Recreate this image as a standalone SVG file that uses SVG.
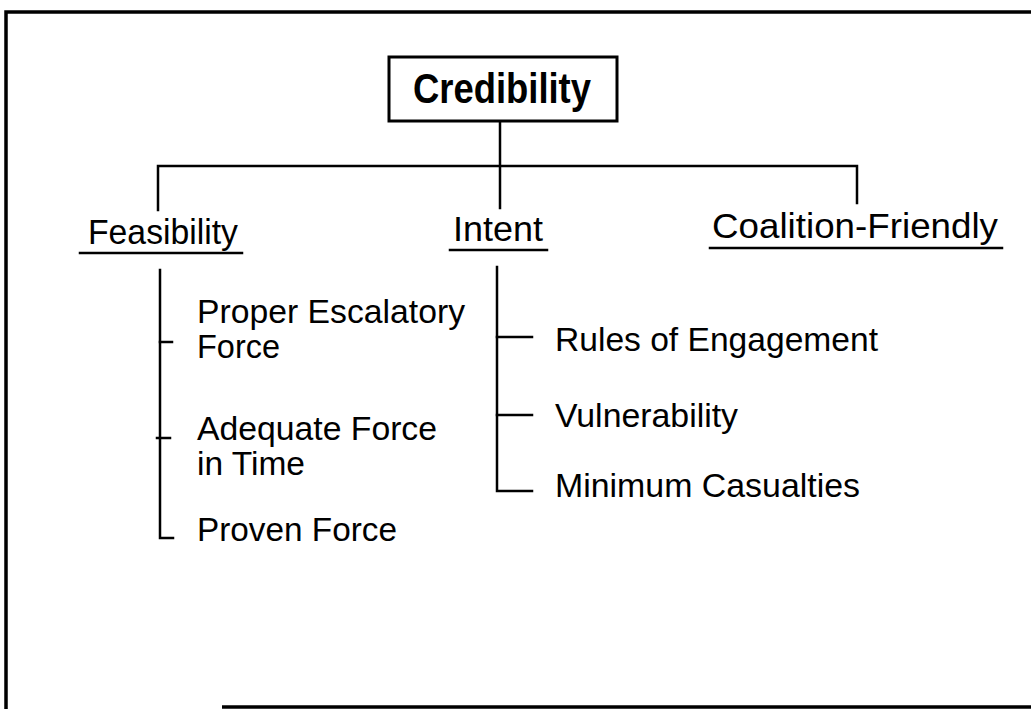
<svg xmlns="http://www.w3.org/2000/svg" width="1031" height="709" viewBox="0 0 1031 709">
<style>
.bg{fill:#fff}
.ln{stroke:#000;stroke-width:2.5;fill:none;stroke-linecap:square}
.frame{stroke:#000;stroke-width:3.5;fill:none}
.t{font-family:"Liberation Sans",Arial,sans-serif;fill:#000}
.title{font-size:42px;font-weight:bold}
.head{font-size:35px}
.sub{font-size:33px}
</style>
<rect class="bg" x="0" y="0" width="1031" height="709"/>
<g id="frame">
<path class="frame" d="M6,709 V12 H1031"/>
<path class="frame" d="M222,707 H1031"/>
</g>
<g id="connectors">
<line class="ln" x1="500" y1="121" x2="500" y2="208"/>
<path class="ln" d="M158,210 V166 H857 V203"/>
<path class="ln" d="M160,270 V538 H173"/>
<line class="ln" x1="160" y1="342" x2="172" y2="342"/>
<line class="ln" x1="157" y1="438" x2="170" y2="438"/>
<path class="ln" d="M497,267 V491 H532"/>
<line class="ln" x1="497" y1="337" x2="532" y2="337"/>
<line class="ln" x1="497" y1="415" x2="532" y2="415"/>
</g>
<g id="node-credibility">
<rect x="389" y="57" width="228" height="64" fill="#fff" stroke="#000" stroke-width="3"/>
<text class="t title" x="413" y="103" textLength="178" lengthAdjust="spacingAndGlyphs">Credibility</text>
</g>
<g id="node-feasibility">
<text class="t head" x="88" y="244" textLength="150" lengthAdjust="spacingAndGlyphs">Feasibility</text>
<line class="ln" x1="80" y1="253" x2="242" y2="253"/>
</g>
<g id="node-intent">
<text class="t head" x="453" y="241" textLength="90" lengthAdjust="spacingAndGlyphs">Intent</text>
<line class="ln" x1="450" y1="250" x2="547" y2="250"/>
</g>
<g id="node-coalition">
<text class="t head" x="712" y="238" textLength="286" lengthAdjust="spacingAndGlyphs">Coalition-Friendly</text>
<line class="ln" x1="710" y1="248" x2="1002" y2="248"/>
</g>
<g id="node-proper">
<text class="t sub" x="197" y="323" textLength="268" lengthAdjust="spacingAndGlyphs">Proper Escalatory</text>
<text class="t sub" x="197" y="358" textLength="83" lengthAdjust="spacingAndGlyphs">Force</text>
</g>
<g id="node-adequate">
<text class="t sub" x="197" y="440" textLength="240" lengthAdjust="spacingAndGlyphs">Adequate Force</text>
<text class="t sub" x="197" y="475" textLength="108" lengthAdjust="spacingAndGlyphs">in Time</text>
</g>
<g id="node-proven">
<text class="t sub" x="197" y="541" textLength="200" lengthAdjust="spacingAndGlyphs">Proven Force</text>
</g>
<g id="node-rules">
<text class="t sub" x="555" y="351" textLength="323" lengthAdjust="spacingAndGlyphs">Rules of Engagement</text>
</g>
<g id="node-vulnerability">
<text class="t sub" x="555" y="427" textLength="183" lengthAdjust="spacingAndGlyphs">Vulnerability</text>
</g>
<g id="node-minimum">
<text class="t sub" x="555" y="497" textLength="305" lengthAdjust="spacingAndGlyphs">Minimum Casualties</text>
</g>
</svg>
